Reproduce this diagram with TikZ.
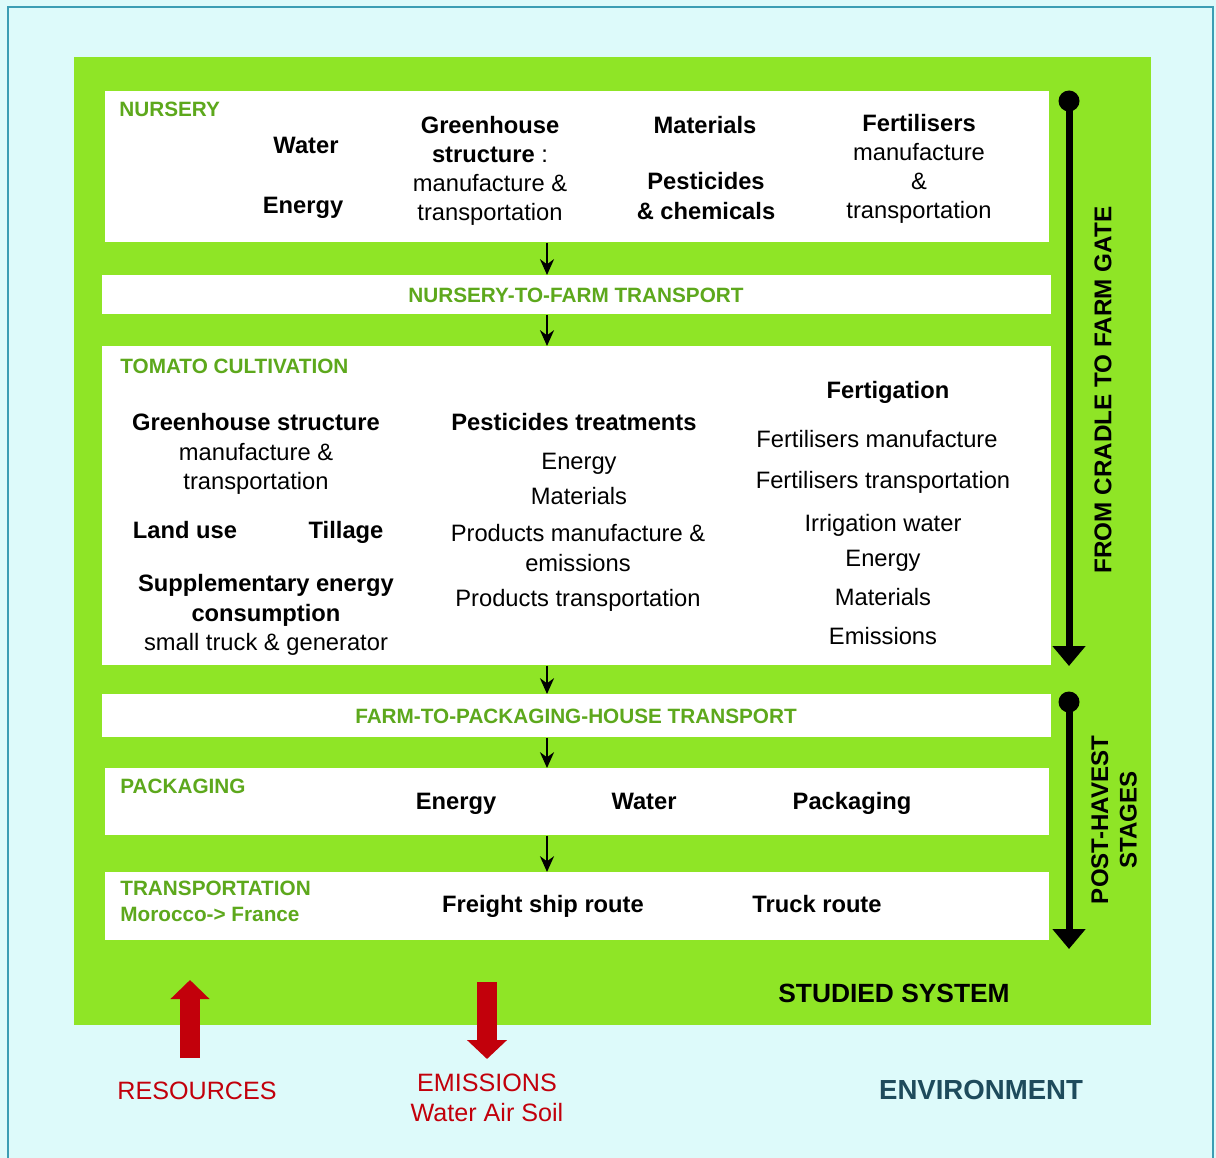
\documentclass[tikz,border=0pt]{standalone}
\usepackage{fontspec}
\setmainfont{Liberation Sans}
\usetikzlibrary{arrows.meta,positioning,calc}
\definecolor{envbg}{HTML}{DDFAFA}
\definecolor{envline}{HTML}{3C9DB4}
\definecolor{sysgreen}{HTML}{8FE526}
\definecolor{labelgreen}{HTML}{5DA81C}
\definecolor{flowred}{HTML}{C2000B}
\definecolor{envteal}{HTML}{1E4B5C}

\begin{document}
\begin{tikzpicture}[x=0.02cm, y=-0.02cm,
    every node/.style={font=\fontsize{13.5}{16.8}\selectfont, inner sep=0pt},
    item/.style={text height=12pt, text depth=2.4pt},
    itemb/.style={item, font=\fontsize{13.5}{16.8}\selectfont\bfseries},
    stagebox/.style={rectangle, fill=white, anchor=north west, inner sep=0pt},
    stagelabel/.style={font=\fontsize{11.8}{14.8}\selectfont\bfseries, text=labelgreen},
    flowarrow/.style={line width=1.2pt, -{Stealth[length=9pt, width=8pt]}},
    spinedot/.style={circle, fill=black, minimum size=0.42cm},
    spinearrow/.style={line width=0.14cm, -{Triangle[length=0.4cm, width=0.64cm]}},
    redarrow/.style={flowred, line width=0.4cm, -{Triangle[length=0.38cm, width=0.76cm]}},
    redtext/.style={font=\fontsize{14.3}{17}\selectfont, text=flowred, align=center},
]
\useasboundingbox (0,0) rectangle (1216,1158);

% Environment and studied system
\fill[envbg] (0,0) rectangle (1216,1158);
\draw[envline, line width=1.4pt] (8,7) rectangle (1213,1160);
\fill[sysgreen] (74,57) rectangle (1151,1025);

% Stage boxes
\node[stagebox, minimum width=18.88cm, minimum height=3.02cm] (nursery) at (105,91) {};
\node[stagebox, minimum width=18.98cm, minimum height=0.78cm] (ntf) at (102,275) {};
\node[stagebox, minimum width=18.98cm, minimum height=6.38cm] (tomato) at (102,346) {};
\node[stagebox, minimum width=18.98cm, minimum height=0.86cm] (ftp) at (102,694) {};
\node[stagebox, minimum width=18.88cm, minimum height=1.34cm] (packaging) at (105,768) {};
\node[stagebox, minimum width=18.88cm, minimum height=1.36cm] (transport) at (105,872) {};

% Flow between stages
\coordinate (flowline) at (547,0);
\foreach \a/\b in {nursery/ntf, ntf/tomato, tomato/ftp, ftp/packaging, packaging/transport} {
    \draw[flowarrow] (\a.south -| flowline) -- (\b.north -| flowline);
}

% Nursery
\node[stagelabel, anchor=west] (nursery-label) at (119,109) {NURSERY};
\node[itemb] (nur-water) at (306,145) {Water};
\node[itemb] (nur-energy) at (303,205) {Energy};
\node[align=center, font=\fontsize{13.5}{16.6}\selectfont] (nur-green) at (490,171)
    {\textbf{Greenhouse}\\\textbf{structure} :\\manufacture \&\\transportation};
\node[itemb] (nur-mat) at (705,125) {Materials};
\node[align=center, font=\fontsize{13.5}{16.6}\selectfont\bfseries] (nur-pest) at (706,196) {Pesticides\\\& chemicals};
\node[align=center, font=\fontsize{13.5}{16.6}\selectfont] (nur-fert) at (919,169)
    {\textbf{Fertilisers}\\manufacture\\\&\\transportation};

\node[stagelabel] (ntf-label) at (576,295) {NURSERY-TO-FARM TRANSPORT};

% Tomato cultivation
\node[stagelabel, anchor=west] (tomato-label) at (120,366) {TOMATO CULTIVATION};
\node[align=center, font=\fontsize{13.5}{16.7}\selectfont] (tom-green) at (256,454)
    {\textbf{Greenhouse structure}\\manufacture \&\\transportation};
\node[itemb] (tom-land) at (185,530) {Land use};
\node[itemb] (tom-till) at (346,530) {Tillage};
\node[align=center, font=\fontsize{13.5}{16.7}\selectfont] (tom-supp) at (266,615)
    {\textbf{Supplementary energy}\\\textbf{consumption}\\small truck \& generator};
\node[itemb] (tom-pest) at (574,422) {Pesticides treatments};
\node[item] (tom-energy) at (579,461) {Energy};
\node[item] (tom-mat) at (579,496) {Materials};
\node[align=center, font=\fontsize{13.5}{16.8}\selectfont] (tom-prod) at (578,548)
    {Products manufacture \&\\emissions};
\node[item] (tom-ptrans) at (578,598) {Products transportation};
\node[itemb] (tom-fertig) at (888,390) {Fertigation};
\foreach \t/\x/\y [count=\i] in {Fertilisers manufacture/877/439, Fertilisers transportation/883/480,
    Irrigation water/883/523, Energy/883/558, Materials/883/597, Emissions/883/636} {
    \node[item] (fertig-\i) at (\x,\y) {\t};
}

\node[stagelabel] (ftp-label) at (576,716) {FARM-TO-PACKAGING-HOUSE TRANSPORT};

% Packaging
\node[stagelabel, anchor=west] (packaging-label) at (120,786) {PACKAGING};
\node[itemb] (pack-energy) at (456,801) {Energy};
\node[itemb] (pack-water) at (644,801) {Water};
\node[itemb] (pack-pack) at (852,801) {Packaging};

% Transportation
\node[stagelabel, anchor=west, align=left] (transport-label) at (120,901)
    {TRANSPORTATION\\Morocco-> France};
\node[itemb] (tr-ship) at (543,904) {Freight ship route};
\node[itemb] (tr-truck) at (817,904) {Truck route};

% Life cycle spines
\node[spinedot] (cradle-dot) at (1069,101) {};
\coordinate (cradle-tip) at (1069,666);
\draw[spinearrow] (cradle-dot.center) -- (cradle-tip);
\node[rotate=90, font=\fontsize{13.8}{16}\selectfont\bfseries] (cradle-label) at (1103,390) {FROM CRADLE TO FARM GATE};

\node[spinedot] (post-dot) at (1069,702) {};
\coordinate (post-tip) at (1069,949);
\draw[spinearrow] (post-dot.center) -- (post-tip);
\node[rotate=90, align=center, font=\fontsize{13.7}{16.2}\selectfont\bfseries] (post-label) at (1114,820) {POST-HAVEST\\STAGES};

\node[font=\fontsize{15}{18}\selectfont\bfseries] (system-label) at (894,993) {STUDIED SYSTEM};

% Exchanges with the environment
\coordinate (res-tail) at (190,1058);
\coordinate (res-tip) at (190,980);
\draw[redarrow] (res-tail) -- (res-tip);
\node[redtext] (resources) at (197,1091) {RESOURCES};

\coordinate (emi-tail) at (487,982);
\coordinate (emi-tip) at (487,1059);
\draw[redarrow, -{Triangle[length=0.38cm, width=0.78cm]}] (emi-tail) -- (emi-tip);
\node[redtext, font=\fontsize{14.3}{17.2}\selectfont] (emissions) at (487,1098) {EMISSIONS\\Water Air Soil};

\node[font=\fontsize{15.7}{18}\selectfont\bfseries, text=envteal] (environment) at (981,1090) {ENVIRONMENT};

\end{tikzpicture}
\end{document}
